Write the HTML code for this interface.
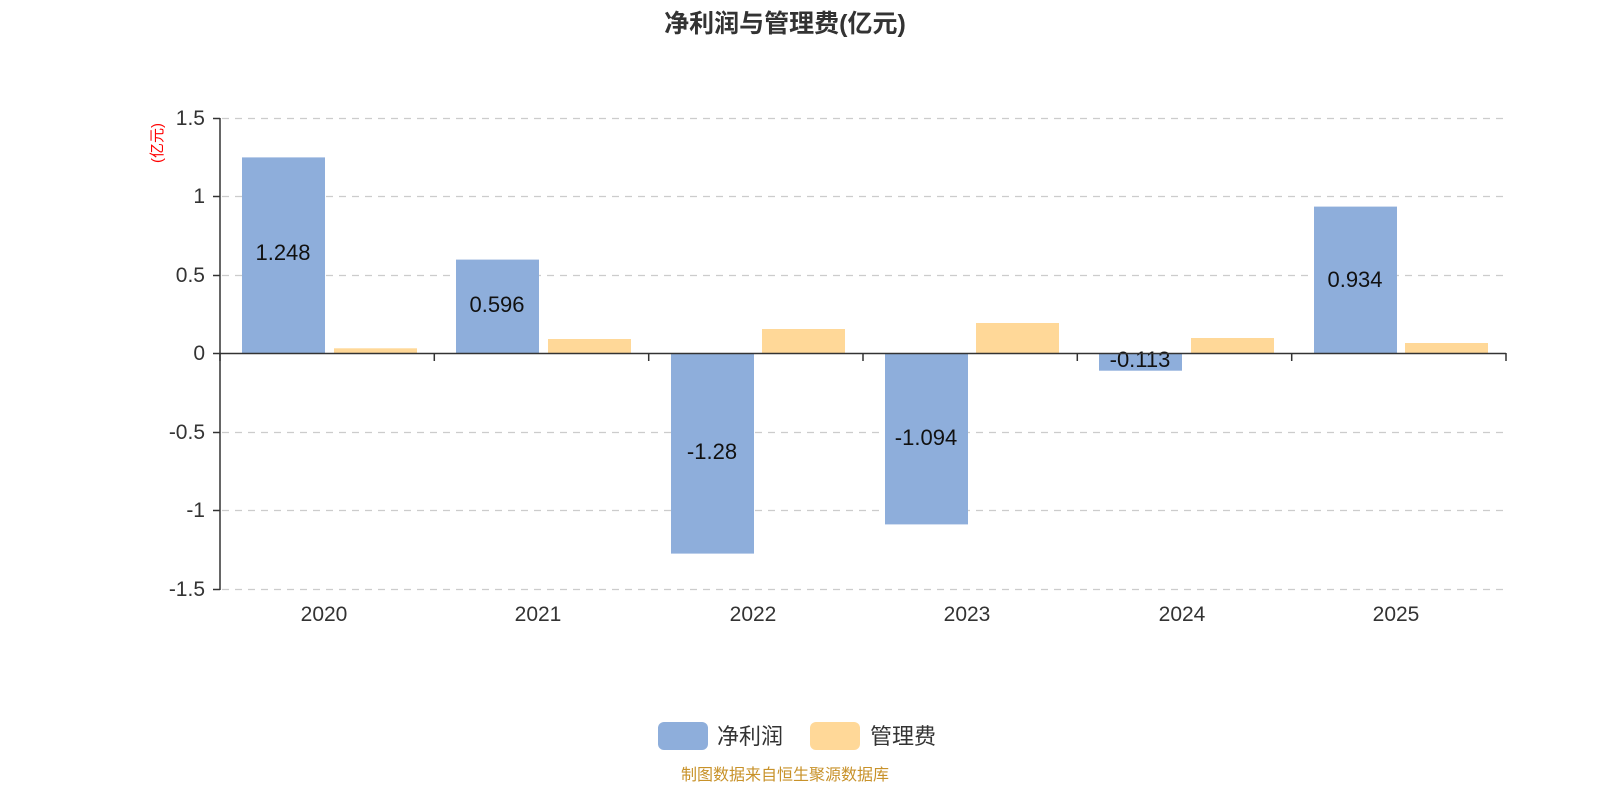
<!DOCTYPE html>
<html><head><meta charset="utf-8"><style>
body{margin:0;background:#fff;}
svg{display:block;font-family:"Liberation Sans","Noto Sans CJK SC",sans-serif;}
</style></head><body>
<svg width="1600" height="800" xmlns="http://www.w3.org/2000/svg">
<text x="785" y="32" text-anchor="middle" font-size="25" font-weight="bold" fill="#333">净利润与管理费(亿元)</text>
<text transform="translate(162,143) rotate(-90)" text-anchor="middle" font-size="15" fill="#f00">(亿元)</text>
<g stroke="#ccc" stroke-width="1.3" stroke-dasharray="7,6">
<line x1="222" y1="118.5" x2="1506" y2="118.5"/>
<line x1="222" y1="196.5" x2="1506" y2="196.5"/>
<line x1="222" y1="275.5" x2="1506" y2="275.5"/>
<line x1="222" y1="432.5" x2="1506" y2="432.5"/>
<line x1="222" y1="510.5" x2="1506" y2="510.5"/>
<line x1="222" y1="589.5" x2="1506" y2="589.5"/>
</g>
<g fill="#8eaedb">
<rect x="242" y="157.4" width="83" height="195.6"/>
<rect x="456" y="259.6" width="83" height="93.4"/>
<rect x="671" y="353" width="83" height="200.6"/>
<rect x="885" y="353" width="83" height="171.4"/>
<rect x="1099" y="353" width="83" height="17.7"/>
<rect x="1314" y="206.6" width="83" height="146.4"/>
</g>
<g fill="#ffd898">
<rect x="334" y="348.3" width="83" height="4.7"/>
<rect x="548" y="339" width="83" height="14"/>
<rect x="762" y="329" width="83" height="24"/>
<rect x="976" y="323" width="83" height="30"/>
<rect x="1191" y="338" width="83" height="15"/>
<rect x="1405" y="343" width="83" height="10"/>
</g>
<g font-size="22" fill="#111" text-anchor="middle">
<text x="283" y="260">1.248</text>
<text x="497" y="312">0.596</text>
<text x="712" y="459">-1.28</text>
<text x="926" y="445">-1.094</text>
<text x="1140" y="367">-0.113</text>
<text x="1355" y="287">0.934</text>
</g>
<g stroke="#333" stroke-width="1.5">
<line x1="220" y1="118" x2="220" y2="590"/>
<line x1="213" y1="118.5" x2="220" y2="118.5"/>
<line x1="213" y1="196.5" x2="220" y2="196.5"/>
<line x1="213" y1="275.5" x2="220" y2="275.5"/>
<line x1="213" y1="353.5" x2="220" y2="353.5"/>
<line x1="213" y1="432.5" x2="220" y2="432.5"/>
<line x1="213" y1="510.5" x2="220" y2="510.5"/>
<line x1="213" y1="589.5" x2="220" y2="589.5"/>
<line x1="220" y1="353.5" x2="1506" y2="353.5"/>
<line x1="220" y1="353" x2="220" y2="361"/>
<line x1="434.3" y1="353" x2="434.3" y2="361"/>
<line x1="648.7" y1="353" x2="648.7" y2="361"/>
<line x1="863" y1="353" x2="863" y2="361"/>
<line x1="1077.3" y1="353" x2="1077.3" y2="361"/>
<line x1="1291.7" y1="353" x2="1291.7" y2="361"/>
<line x1="1506" y1="353" x2="1506" y2="361"/>
</g>
<g font-size="21" fill="#333" text-anchor="end">
<text x="205" y="125">1.5</text>
<text x="205" y="203">1</text>
<text x="205" y="282">0.5</text>
<text x="205" y="360">0</text>
<text x="205" y="439">-0.5</text>
<text x="205" y="517">-1</text>
<text x="205" y="596">-1.5</text>
</g>
<g font-size="21" fill="#333" text-anchor="middle">
<text x="324" y="621">2020</text>
<text x="538" y="621">2021</text>
<text x="753" y="621">2022</text>
<text x="967" y="621">2023</text>
<text x="1182" y="621">2024</text>
<text x="1396" y="621">2025</text>
</g>
<rect x="658" y="722" width="50" height="28" rx="6" fill="#8eaedb"/>
<text x="717" y="744" font-size="22" fill="#333">净利润</text>
<rect x="810" y="722" width="50" height="28" rx="6" fill="#ffd898"/>
<text x="870" y="744" font-size="22" fill="#333">管理费</text>
<text x="785" y="780" text-anchor="middle" font-size="16" fill="#c8922a">制图数据来自恒生聚源数据库</text>
</svg>
</body></html>
